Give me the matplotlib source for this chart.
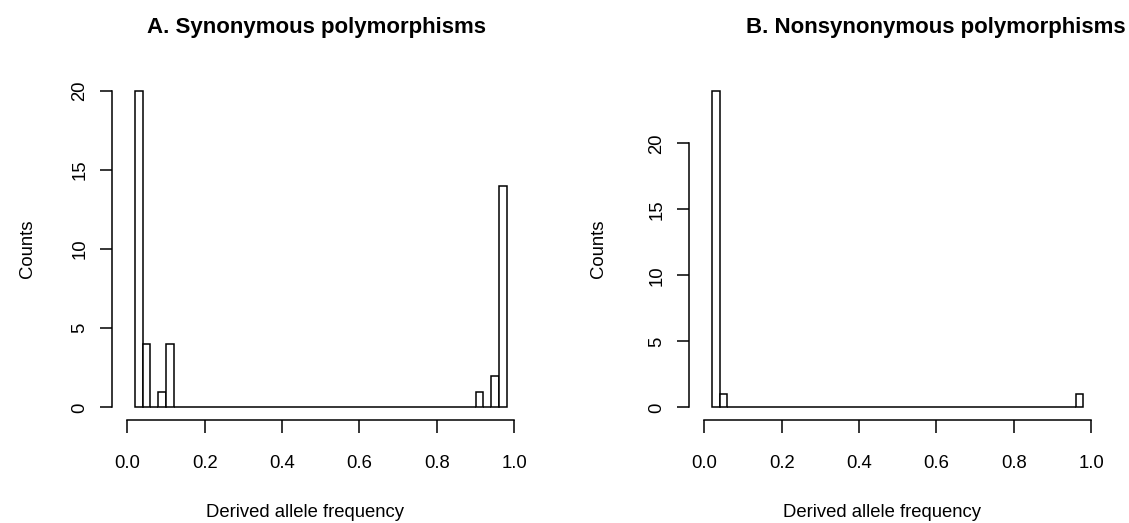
import matplotlib.pyplot as plt
import numpy as np

plt.rcParams['font.family'] = ['Liberation Sans', 'DejaVu Sans']

# histogram bins: width 0.02 from 0.02 to 0.98
bin_edges = np.linspace(0.02, 0.98, 49)

syn_counts = [20, 4, 0, 1, 4] + [0] * 39 + [1, 0, 2, 14]
nonsyn_counts = [24, 1] + [0] * 45 + [1]

titles = ['A. Synonymous polymorphisms', 'B. Nonsynonymous polymorphisms']
xticks = [0.0, 0.2, 0.4, 0.6, 0.8, 1.0]
yticks = [0, 5, 10, 15, 20]
ymaxs = [20, 24]

fig = plt.figure(figsize=(11.29, 5.23), dpi=100)
ax_a = fig.add_axes([0.0990, 0.1969, 0.3702, 0.6539])
ax_b = fig.add_axes([0.6101, 0.1969, 0.3700, 0.6539])

ylabel_x = [-0.2005, -0.217]
xlabel_x = [0.4634, 0.4622]

for ax, counts, ymax, ylx, xlx in zip([ax_a, ax_b], [syn_counts, nonsyn_counts],
                                      ymaxs, ylabel_x, xlabel_x):
    lefts = bin_edges[:-1]
    widths = np.diff(bin_edges)
    ax.bar(lefts, counts, width=widths, align='edge', facecolor='white',
           edgecolor='black', linewidth=1.1)
    ax.set_xlim(-0.04, 1.04)
    ax.set_ylim(-0.04 * ymax, ymax * 1.04)
    for s in ['top', 'right']:
        ax.spines[s].set_visible(False)
    ax.spines['left'].set_bounds(0, 20)
    ax.spines['bottom'].set_bounds(0, 1)
    ax.spines['left'].set_linewidth(1.1)
    ax.spines['bottom'].set_linewidth(1.1)
    ax.set_xticks(xticks)
    ax.set_xticklabels(['%.1f' % t for t in xticks])
    ax.set_yticks(yticks)
    ax.set_yticklabels([str(t) for t in yticks], rotation=90, va='center')
    ax.tick_params(length=9, width=1.1, labelsize=13.3)
    ax.tick_params(axis='x', pad=16)
    ax.tick_params(axis='y', pad=8)
    ax.set_xlabel('Derived allele frequency', fontsize=13.3, va='center')
    ax.xaxis.set_label_coords(xlx, -0.269)
    ax.set_ylabel('Counts', fontsize=13.3, va='center')
    ax.yaxis.set_label_coords(ylx, 0.5)

fig.text(316.5 / 1129, 1 - 28 / 523, titles[0], fontsize=16,
         fontweight='bold', ha='center', va='center')
fig.text(936 / 1129, 1 - 28 / 523, titles[1], fontsize=16,
         fontweight='bold', ha='center', va='center')

fig.savefig('out.png', dpi=100)
